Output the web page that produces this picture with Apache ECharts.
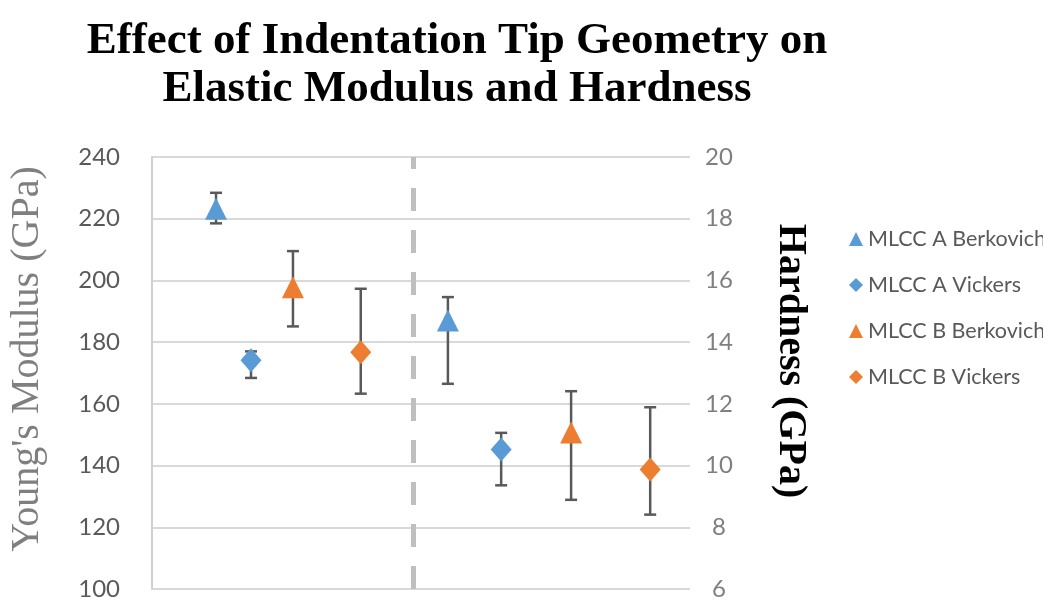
<!DOCTYPE html>
<html>
<head>
<meta charset="utf-8">
<script src="https://cdn.jsdelivr.net/npm/echarts@6/dist/echarts.min.js"></script>
<style>
  html, body { margin: 0; padding: 0; background: #ffffff; }
  #chart { width: 1043px; height: 600px; }
</style>
</head>
<body>
<div id="chart"></div>
<script>
// Series names (legend order)
const seriesNames = ['MLCC A Berkovich', 'MLCC A Vickers', 'MLCC B Berkovich', 'MLCC B Vickers'];
const seriesSymbols = ['triangle', 'diamond', 'triangle', 'diamond'];
const seriesColors = ['#5B9BD5', '#5B9BD5', '#ED7D31', '#ED7D31'];

// Horizontal slot of each point on a 0–100 value scale
const modulusX = [11.9, 18.4, 26.2, 38.8];
const hardnessX = [55.0, 64.9, 77.9, 92.6];
const dividerX = 48.5;

// Young's modulus (GPa): mean, lower and upper error-bar ends
const modulusMean = [223.2, 174.1, 197.8, 176.7];
const modulusLow  = [218.5, 168.4, 185.1, 163.3];
const modulusHigh = [228.4, 177.0, 209.5, 197.3];

// Hardness (GPa): mean, lower and upper error-bar ends
const hardnessMean = [14.70, 10.52, 11.07, 9.87];
const hardnessLow  = [12.65, 9.36, 8.89, 8.41];
const hardnessHigh = [15.46, 11.06, 12.41, 11.89];

// Axis ranges
const modulusAxis = { min: 100, max: 240, interval: 20 };
const hardnessAxis = { min: 6, max: 20, interval: 2 };

const chart = echarts.init(document.getElementById('chart'), null, { renderer: 'canvas' });

function symbolSizeFor(sym) {
  return sym === 'triangle' ? [22, 22] : [21, 24];
}

function errorBarSeries(name, xs, lows, highs, yAxisIndex) {
  return {
    name: name,
    type: 'custom',
    xAxisIndex: 0,
    yAxisIndex: yAxisIndex,
    z: 2,
    silent: true,
    data: xs.map((x, i) => [x, lows[i], highs[i]]),
    renderItem: function (params, api) {
      const x = api.value(0);
      const lo = api.coord([x, api.value(1)]);
      const hi = api.coord([x, api.value(2)]);
      const cap = 6;
      const style = { stroke: '#595959', lineWidth: 2.5 };
      return {
        type: 'group',
        children: [
          { type: 'line', shape: { x1: lo[0], y1: lo[1], x2: hi[0], y2: hi[1] }, style: style },
          { type: 'line', shape: { x1: hi[0] - cap, y1: hi[1], x2: hi[0] + cap, y2: hi[1] }, style: style },
          { type: 'line', shape: { x1: lo[0] - cap, y1: lo[1], x2: lo[0] + cap, y2: lo[1] }, style: style }
        ]
      };
    }
  };
}

const series = [];
series.push(errorBarSeries('modulusErr', modulusX, modulusLow, modulusHigh, 0));
series.push(errorBarSeries('hardnessErr', hardnessX, hardnessLow, hardnessHigh, 1));

seriesNames.forEach((name, i) => {
  series.push({
    name: name,
    type: 'scatter',
    yAxisIndex: 0,
    z: 5,
    symbol: seriesSymbols[i],
    symbolSize: symbolSizeFor(seriesSymbols[i]),
    itemStyle: { color: seriesColors[i], opacity: 1 },
    data: [[modulusX[i], modulusMean[i]]]
  });
  series.push({
    name: name,
    type: 'scatter',
    yAxisIndex: 1,
    z: 5,
    symbol: seriesSymbols[i],
    symbolSize: symbolSizeFor(seriesSymbols[i]),
    itemStyle: { color: seriesColors[i], opacity: 1 },
    data: [[hardnessX[i], hardnessMean[i]]]
  });
});

// Dashed divider between the modulus and hardness groups
series.push({
  name: 'divider',
  type: 'scatter',
  data: [],
  z: 1,
  markLine: {
    silent: true,
    symbol: ['none', 'none'],
    label: { show: false },
    lineStyle: { color: '#BFBFBF', width: 5, type: [23, 19] },
    data: [{ xAxis: dividerX }]
  }
});

const option = {
  backgroundColor: '#ffffff',
  animation: false,
  title: {
    text: 'Effect of Indentation Tip Geometry on\nElastic Modulus and Hardness',
    left: 452,
    top: 12,
    textAlign: 'center',
    textStyle: {
      fontFamily: 'Liberation Serif',
      fontWeight: 'bold',
      fontSize: 45,
      lineHeight: 48,
      color: '#000000'
    }
  },
  legend: {
    orient: 'vertical',
    left: 844,
    top: 223,
    itemWidth: 14,
    itemHeight: 14,
    itemGap: 24,
    textStyle: { fontFamily: 'Lato', fontSize: 21.5, color: '#595959', lineHeight: 21 },
    data: seriesNames.map((n, i) => ({ name: n, icon: seriesSymbols[i] }))
  },
  grid: { left: 152, right: 353, top: 157, bottom: 11, outerBoundsMode: 'none', containLabel: false },
  xAxis: {
    type: 'value',
    min: 0,
    max: 100,
    show: false
  },
  yAxis: [
    {
      type: 'value',
      min: modulusAxis.min,
      max: modulusAxis.max,
      interval: modulusAxis.interval,
      position: 'left',
      name: "Young's Modulus (GPa)",
      nameLocation: 'middle',
      nameGap: 105,
      nameTextStyle: {
        fontFamily: 'Liberation Serif',
        fontSize: 40,
        color: '#7F7F7F',
        padding: [0, 0, 0, 28]
      },
      axisLine: { show: true, lineStyle: { color: '#D0D0D0', width: 2 } },
      axisTick: { show: false },
      axisLabel: { fontFamily: 'Lato', fontSize: 24, color: '#595959', margin: 32 },
      splitLine: { show: true, lineStyle: { color: '#D9D9D9', width: 2 } }
    },
    {
      type: 'value',
      min: hardnessAxis.min,
      max: hardnessAxis.max,
      interval: hardnessAxis.interval,
      position: 'right',
      name: 'Hardness (GPa)',
      nameLocation: 'middle',
      nameGap: 80,
      nameRotate: -90,
      nameTextStyle: {
        fontFamily: 'Liberation Serif',
        fontWeight: 'bold',
        fontSize: 40,
        color: '#000000',
        padding: [0, 24, 0, 0]
      },
      axisLine: { show: false },
      axisTick: { show: false },
      axisLabel: { fontFamily: 'Lato', fontSize: 24, color: '#7F7F7F', margin: 29, align: 'center' },
      splitLine: { show: false }
    }
  ],
  series: series
};

chart.setOption(option);
</script>
</body>
</html>
